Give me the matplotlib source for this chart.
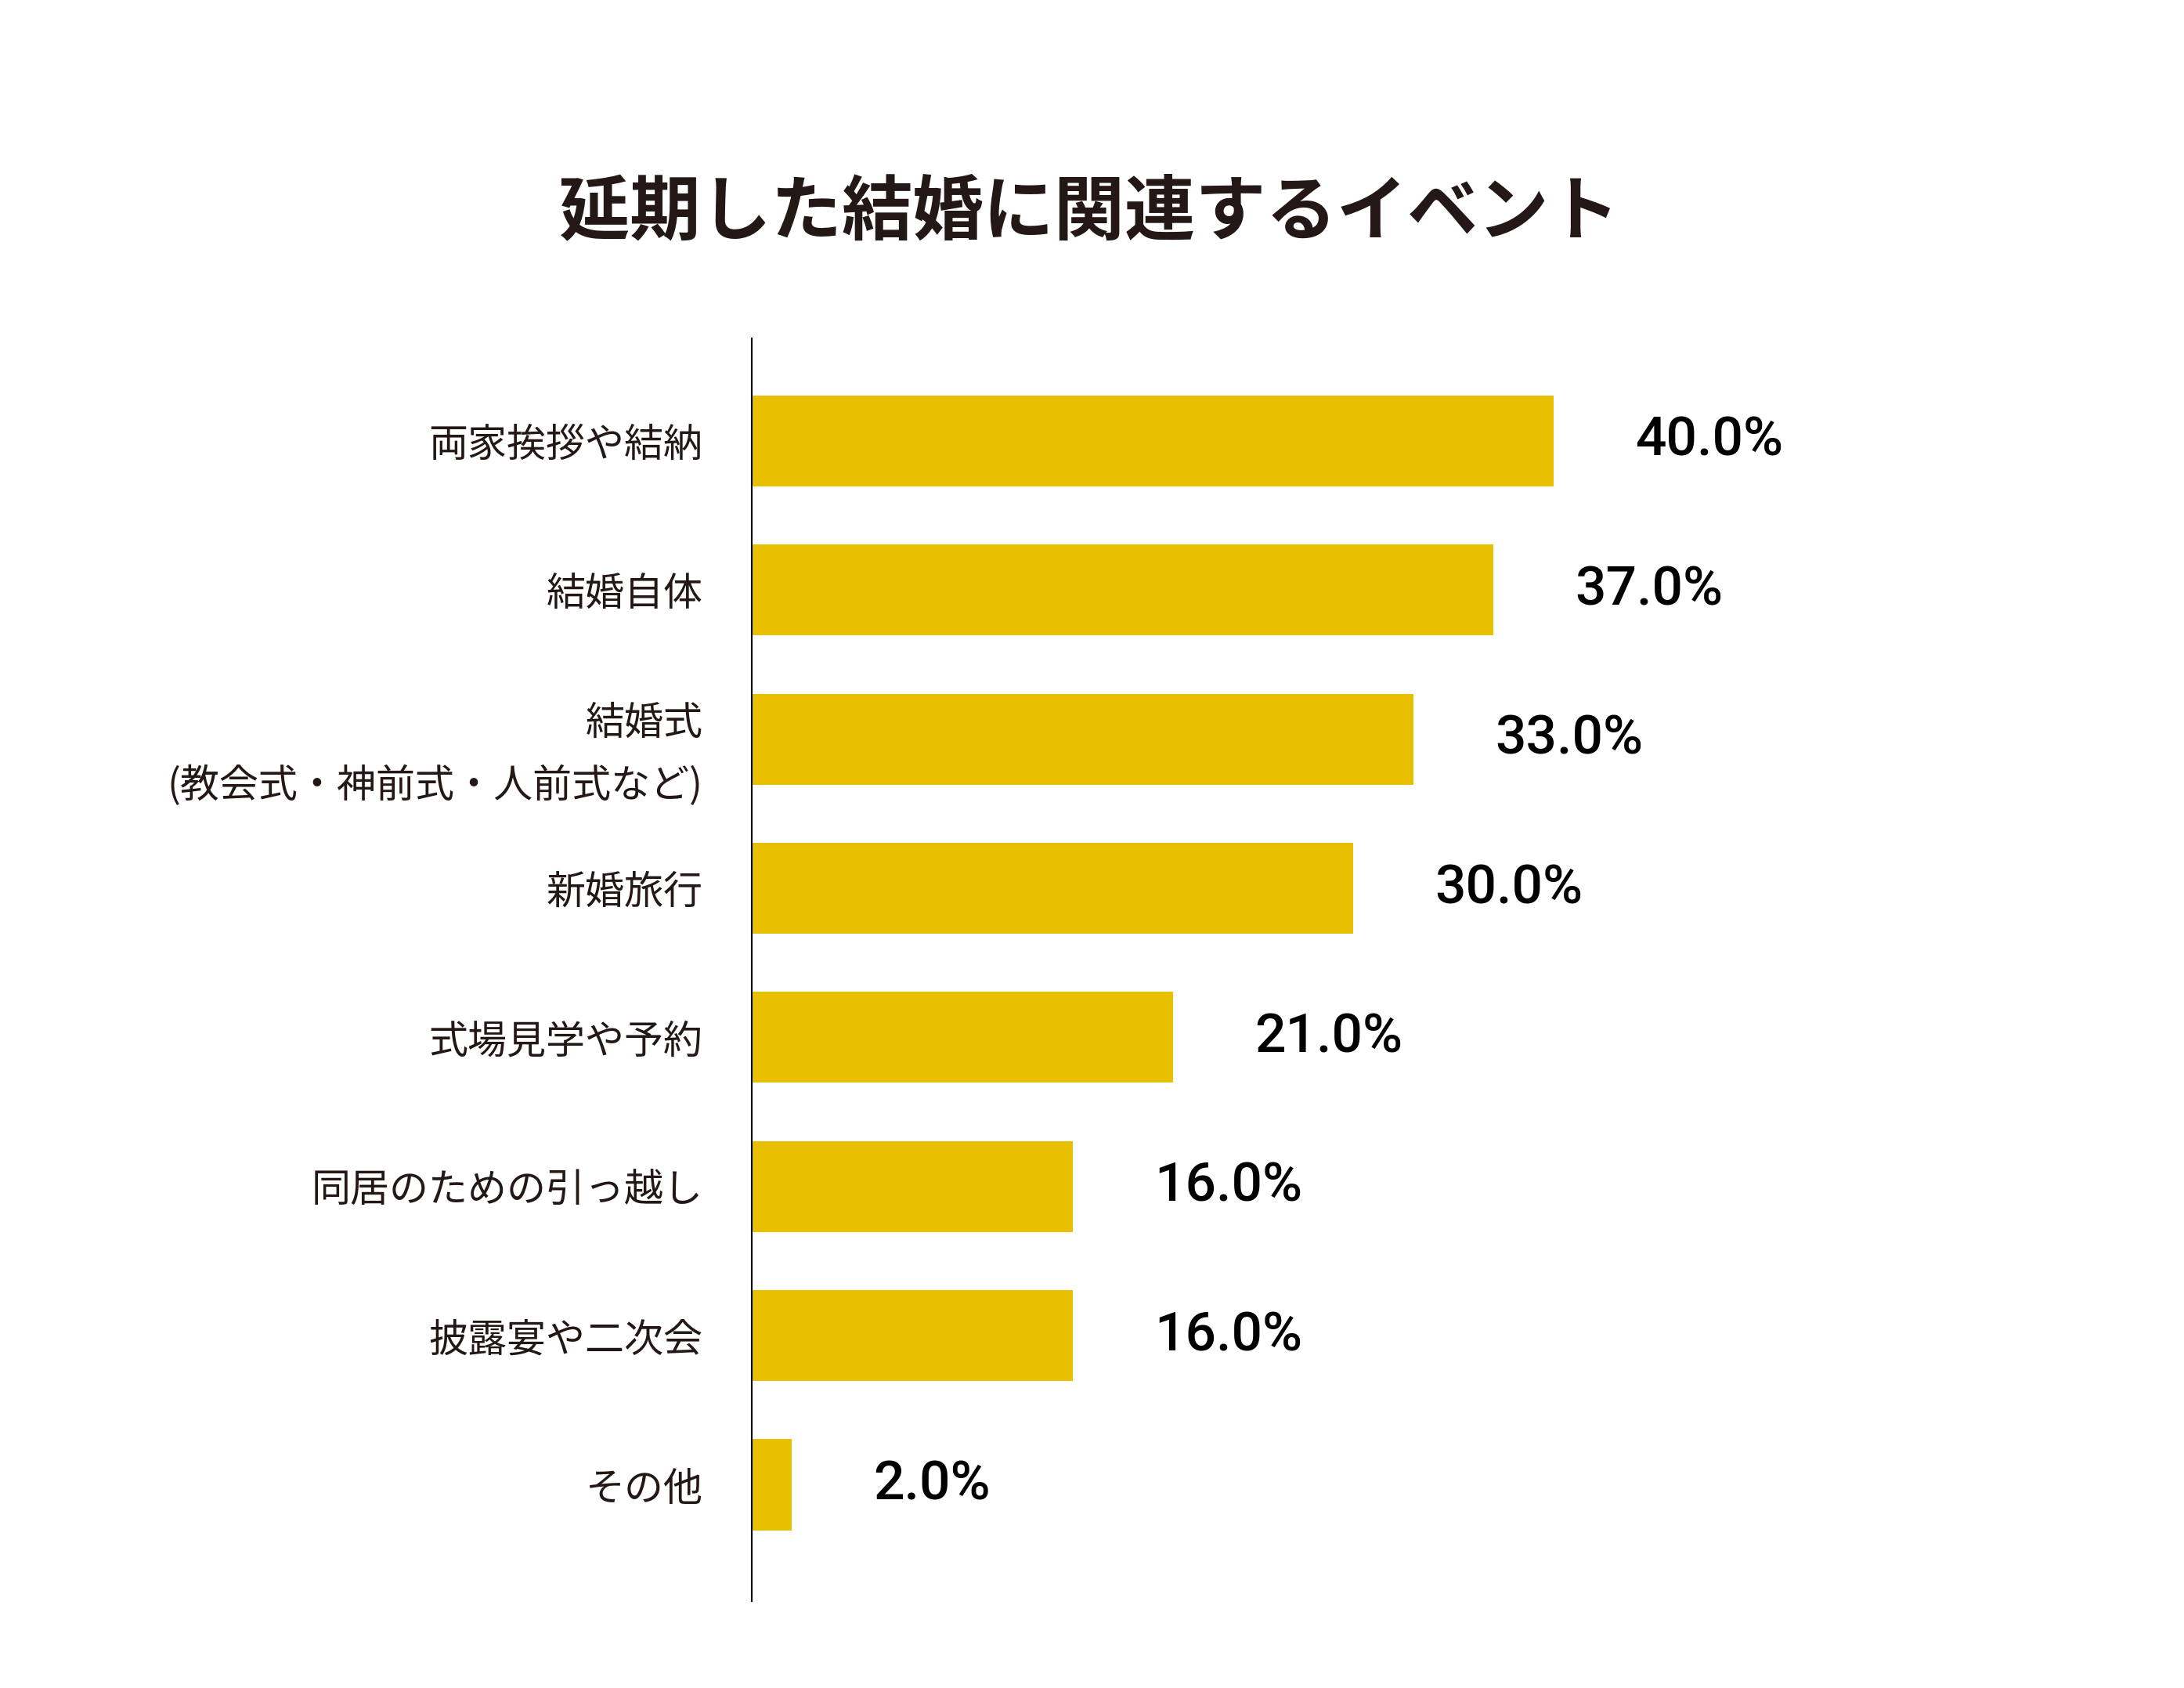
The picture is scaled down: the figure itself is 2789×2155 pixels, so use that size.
import matplotlib
matplotlib.use("Agg")
import matplotlib.pyplot as plt
import numpy as np

plt.rcParams['font.family'] = ['Noto Sans CJK JP', 'DejaVu Sans']

# データ
title = "延期した結婚に関連するイベント"
categories = [
    "両家挨拶や結納",
    "結婚自体",
    "結婚式\n(教会式・神前式・人前式など)",
    "新婚旅行",
    "式場見学や予約",
    "同居のための引っ越し",
    "披露宴や二次会",
    "その他",
]
values = [40.0, 37.0, 33.0, 30.0, 21.0, 16.0, 16.0, 2.0]

bar_color = "#E8C000"
text_color = "#231815"

fig = plt.figure(figsize=(27.89, 21.55), dpi=100)
ax = fig.add_axes([0.3442, 0.0515, 0.459, 0.748])

y = np.arange(len(categories))
ax.barh(y, values, height=0.61, color=bar_color, zorder=1)

ax.set_xlim(0, 50)
ax.set_ylim(len(categories) - 1 + 0.78, -0.687)

# 値ラベル
for yi, v in zip(y, values):
    ax.annotate(f"{v:.1f}%", xy=(v, yi), xytext=(75, 0), textcoords="offset points",
                ha="left", va="center", fontsize=50, fontweight="medium",
                family=["Roboto", "DejaVu Sans"], color="black")

ax.set_yticks(y)
ax.set_yticklabels(categories, fontsize=36, color=text_color)
for lab in ax.get_yticklabels():
    lab.set_linespacing(1.7)
ax.tick_params(axis="y", length=0, pad=45)
ax.set_xticks([])

for s in ["top", "right", "bottom"]:
    ax.spines[s].set_visible(False)
ax.spines["left"].set_linewidth(1.5)
ax.spines["left"].set_color("black")
ax.spines["left"].set_zorder(3)

fig.text(0.4988, 0.874, title, ha="center", va="center", fontsize=65,
         fontweight="bold", color=text_color)

fig.savefig("out.png", dpi=100, facecolor="white")
